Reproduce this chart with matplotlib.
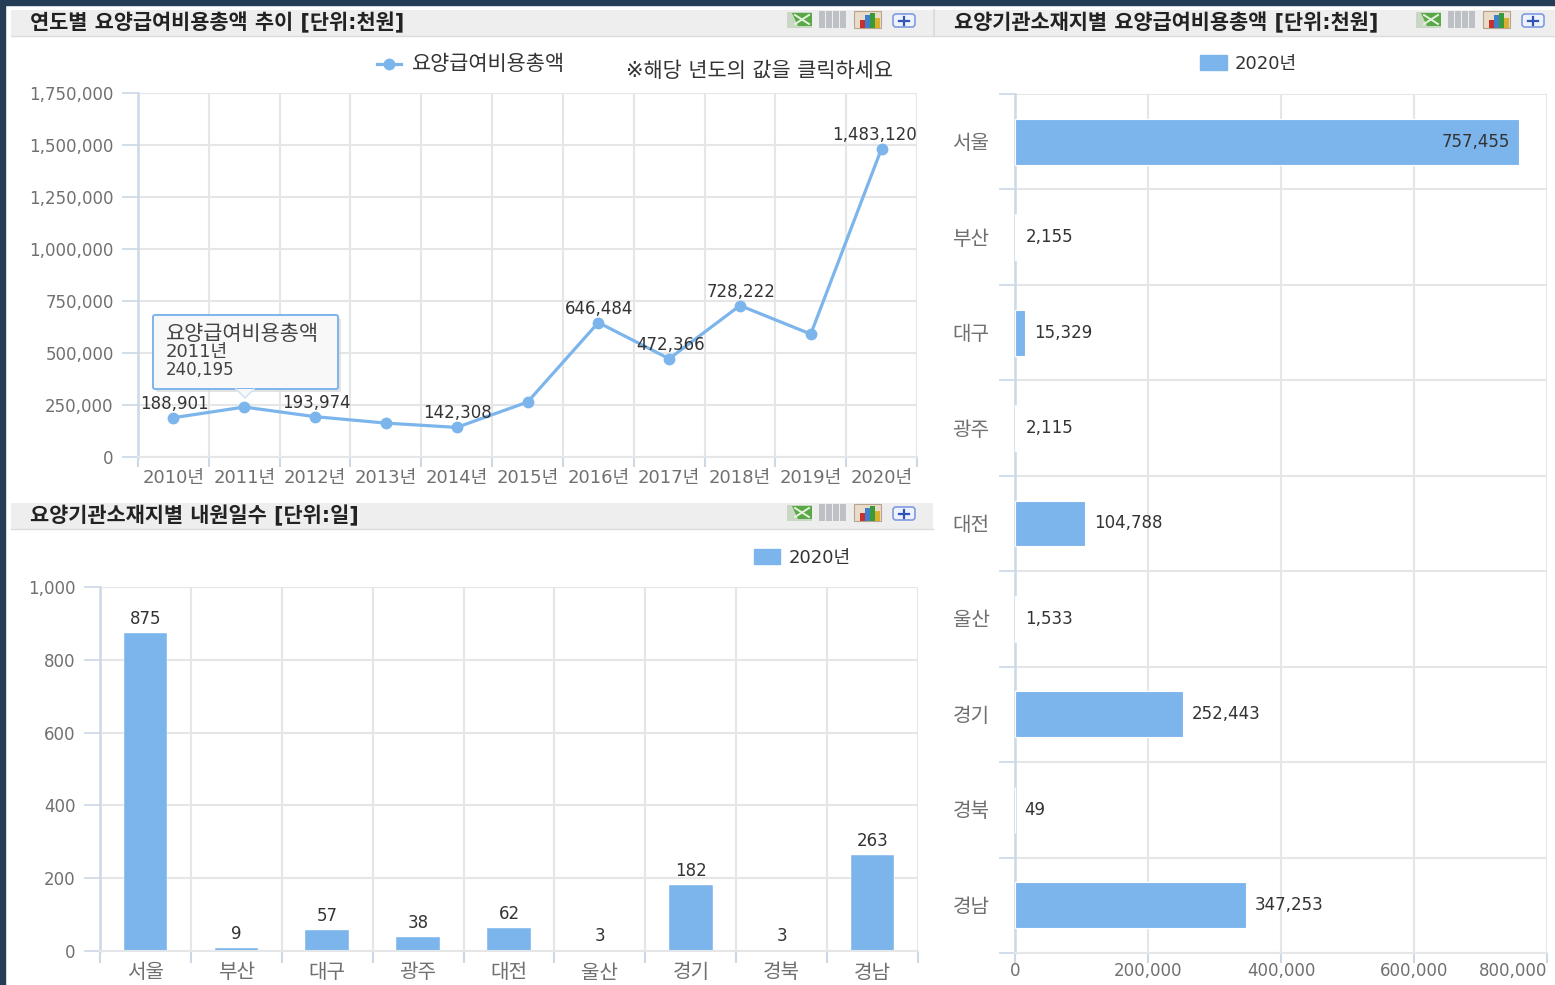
import matplotlib
matplotlib.use('Agg')
import matplotlib.pyplot as plt
from matplotlib.patches import Rectangle, FancyBboxPatch, Polygon
from matplotlib.ticker import FuncFormatter

plt.rcParams['font.family'] = ['DejaVu Sans', 'Noto Sans CJK KR']

years = ['2010년','2011년','2012년','2013년','2014년','2015년','2016년','2017년','2018년','2019년','2020년']
cost_by_year = [188901,240195,193974,163000,142308,264000,646484,472366,728222,591000,1483120]
label_shown = [True,False,True,False,True,False,True,True,True,False,True]
regions = ['서울','부산','대구','광주','대전','울산','경기','경북','경남']
days = [875,9,57,38,62,3,182,3,263]
cost_by_region = [757455,2155,15329,2115,104788,1533,252443,49,347253]

W, H = 1555, 985
BLUE = '#7cb5ec'; GRID = '#e4e6e8'; AXC = '#ccd8e6'; TICK = '#707070'; DARK = '#333333'
FS_NUM = 12; FS_KO = 15; FS_YEAR = 13; FS_REG = 14.5; FS_TITLE = 15
fig = plt.figure(figsize=(W/100, H/100), dpi=100, facecolor='white')

def px_axes(l, t, r, b):
    return fig.add_axes([l/W, 1-b/H, (r-l)/W, (b-t)/H])

bg = fig.add_axes([0,0,1,1], zorder=0)
bg.set_xlim(0,W); bg.set_ylim(H,0); bg.axis('off')
ov = fig.add_axes([0,0,1,1], zorder=10)
ov.set_xlim(0,W); ov.set_ylim(H,0); ov.axis('off'); ov.patch.set_alpha(0)

# frame
bg.add_patch(Rectangle((0,0),W,5,color='#253c57'))
bg.add_patch(Rectangle((0,0),5,H,color='#253c57'))

def icons(x0, y0):
    a = ov
    a.add_patch(Rectangle((x0+1,y0+1),25,16,fc='#c9d8c4',ec='none'))
    a.add_patch(Polygon([[x0+6,y0+2],[x0+26,y0+2],[x0+26,y0+15],[x0+12,y0+15]],closed=True,fc='#58a845',ec='none'))
    a.plot([x0+9,x0+23],[y0+4,y0+13],color='#e6f2e0',lw=1.4)
    a.plot([x0+9,x0+23],[y0+13,y0+4],color='#e6f2e0',lw=1.4)
    for i in range(4):
        a.add_patch(Rectangle((x0+33+i*7,y0),5.5,17,fc='#bdc0c4',ec='none'))
    a.add_patch(Rectangle((x0+68,y0),27,17,fc='#e9dccb',ec='#b9a48e',lw=.8))
    for dx,h,c in [(6,8,'#c8302a'),(11,13,'#3f7fd0'),(16,15,'#3a9a3a'),(21,10,'#d8b030')]:
        a.add_patch(Rectangle((x0+68+dx,y0+17-h),4.5,h,fc=c,ec='none'))
    a.add_patch(FancyBboxPatch((x0+107,y0+3),22,13,boxstyle='round,pad=0,rounding_size=3',fc='#eef2fb',ec='#7f9be0',lw=1.2))
    a.plot([x0+113,x0+123],[y0+9.5,y0+9.5],color='#2f55b5',lw=1.6)
    a.plot([x0+118,x0+118],[y0+5.5,y0+13.5],color='#2f55b5',lw=1.6)

def header(x0,x1,y0,title,tx,ix):
    bg.add_patch(Rectangle((x0,y0),x1-x0,25.5,fc='#eeeeee',ec='none'))
    bg.plot([x0,x1],[y0+25.5,y0+25.5],color='#dcdcdc',lw=1)
    ov.text(tx,y0+13,title,fontsize=FS_TITLE,fontweight='bold',color='#222222',va='center',ha='left')
    icons(ix,y0+1)

header(11,933,10,'연도별 요양급여비용총액 추이 [단위:천원]',30,786)
header(934,1555,10,'요양기관소재지별 요양급여비용총액 [단위:천원]',954,1415)
header(11,933,503,'요양기관소재지별 내원일수 [단위:일]',30,786)
bg.plot([934,934],[10,35],color='#d8d8d8',lw=1.2)

def style(ax):
    ax.set_axisbelow(True)
    for s in ['top','right']:
        ax.spines[s].set_visible(False)
    ax.spines['left'].set_color(AXC); ax.spines['left'].set_linewidth(1.8)
    ax.spines['bottom'].set_color(GRID); ax.spines['bottom'].set_linewidth(1.5)
    ax.grid(True,color=GRID,lw=1.5)

fmt = FuncFormatter(lambda v,_: f'{int(v):,}')

# line chart
a1 = px_axes(138,93,917,457)
style(a1)
x = list(range(len(years)))
a1.plot(x,cost_by_year,color=BLUE,lw=2.3,marker='o',ms=7.5,clip_on=False)
a1.set_xlim(-.5,10.5); a1.set_ylim(0,1750000)
a1.set_yticks(range(0,1750001,250000)); a1.yaxis.set_major_formatter(fmt)
a1.set_xticks([i-.5 for i in range(12)]); a1.set_xticklabels([])
a1.tick_params(axis='y',length=11.5,width=1.2,color=AXC,labelsize=FS_NUM,labelcolor=TICK,pad=6)
a1.tick_params(axis='x',length=7.5,width=1.5,color=AXC)
for i,y in enumerate(years):
    a1.annotate(y,(i,0),xytext=(0,-21),textcoords='offset pixels',ha='center',va='center',fontsize=FS_YEAR,color=TICK)
for i,(v,s) in enumerate(zip(cost_by_year,label_shown)):
    if s:
        dx = -7 if i == len(years)-1 else 1
        a1.annotate(f'{v:,}',(i,v),xytext=(dx,14),textcoords='offset pixels',ha='center',va='center',
                    fontsize=FS_NUM,color=DARK,annotation_clip=False)
ov.plot([377,401],[64,64],color=BLUE,lw=2.3)
ov.plot([389],[64],color=BLUE,marker='o',ms=7.5)
ov.text(412,64,'요양급여비용총액',fontsize=FS_KO,color=DARK,va='center')
ov.text(626,71,'※해당 년도의 값을 클릭하세요',fontsize=FS_KO,color=DARK,va='center')

# tooltip
ov.add_patch(FancyBboxPatch((156,318),185,74,boxstyle='round,pad=0,rounding_size=2',fc='#d8d8d8',ec='none',alpha=.7,zorder=2))
ov.add_patch(FancyBboxPatch((153,315),185,74,boxstyle='round,pad=0,rounding_size=2',fc='#f8f8f8',ec=BLUE,lw=1.4,zorder=3))
ov.add_patch(Polygon([[236,389],[245,398],[254,389]],closed=True,fc='#f8f8f8',ec='none',zorder=4))
ov.plot([236,245,254],[389,398,389],color='#d5e4f4',lw=1.2,zorder=4)
ov.text(166,334,'요양급여비용총액',fontsize=FS_KO,color='#444444',va='center',zorder=5)
ov.text(166,352,'2011년',fontsize=FS_YEAR,color='#444444',va='center',zorder=5)
ov.text(166,370,'240,195',fontsize=FS_NUM,color='#444444',va='center',zorder=5)

# column chart
a2 = px_axes(100,587,918,951)
style(a2)
x2 = list(range(len(regions)))
a2.bar(x2,days,width=.48,color=BLUE,edgecolor='white',linewidth=.3,zorder=2)
a2.set_xlim(-.5,8.5); a2.set_ylim(0,1000)
a2.set_yticks(range(0,1001,200)); a2.yaxis.set_major_formatter(fmt)
a2.set_xticks([i-.5 for i in range(10)]); a2.set_xticklabels([])
a2.tick_params(axis='y',length=11.5,width=1.2,color=AXC,labelsize=FS_NUM,labelcolor=TICK,pad=6)
a2.tick_params(axis='x',length=8.5,width=1.5,color=AXC)
for i,r in enumerate(regions):
    a2.annotate(r,(i,0),xytext=(0,-22),textcoords='offset pixels',ha='center',va='center',fontsize=FS_REG,color=TICK)
for i,v in enumerate(days):
    a2.annotate(f'{v:,}',(i,v),xytext=(0,14),textcoords='offset pixels',ha='center',va='center',fontsize=FS_NUM,color=DARK)
ov.add_patch(Rectangle((754,549),26,15,color=BLUE))
ov.text(789,558,'2020년',fontsize=FS_YEAR,color=DARK,va='center')

# bar chart
a3 = px_axes(1015,94,1547,953)
style(a3)
y3 = list(range(len(regions)))
a3.barh(y3,cost_by_region,height=.48,color=BLUE,edgecolor='white',linewidth=.8,zorder=3)
a3.set_ylim(8.5,-.5); a3.set_xlim(0,800000)
a3.set_xticks(range(0,800001,200000)); a3.set_xticklabels([])
a3.set_yticks([i-.5 for i in range(10)]); a3.set_yticklabels([])
a3.tick_params(axis='y',length=11.5,width=1.2,color=AXC)
a3.tick_params(axis='x',length=7,width=1.5,color=AXC)
for i,v in enumerate(cost_by_region):
    a3.annotate(regions[i],(0,i),xytext=(-44,-2),textcoords='offset pixels',ha='center',va='center',fontsize=FS_REG,color=TICK)
    if v > 500000:
        a3.annotate(f'{v:,}',(v,i),xytext=(-9,0),textcoords='offset pixels',ha='right',va='center',fontsize=FS_NUM,color=DARK)
    else:
        a3.annotate(f'{v:,}',(v,i),xytext=(9,0),textcoords='offset pixels',ha='left',va='center',fontsize=FS_NUM,color=DARK)
for v in range(0,800001,200000):
    ha = 'right' if v == 800000 else 'center'
    a3.annotate(f'{v:,}',(v,8.5),xytext=(0,-18),textcoords='offset pixels',ha=ha,va='center',fontsize=FS_NUM,color=TICK,annotation_clip=False)
ov.add_patch(Rectangle((1200,55),27,15,color=BLUE))
ov.text(1235,64,'2020년',fontsize=FS_YEAR,color=DARK,va='center')

fig.savefig('out.png',dpi=100)
